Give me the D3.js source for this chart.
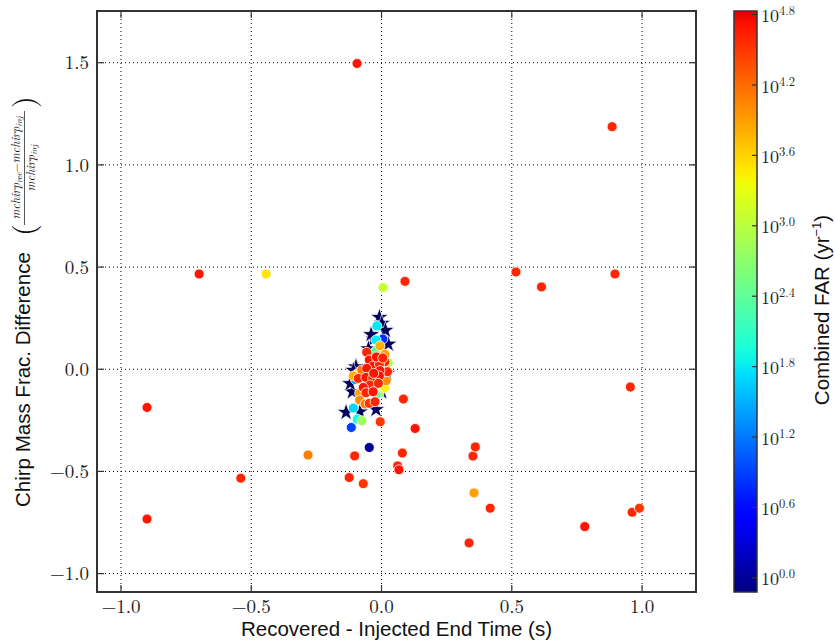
<!DOCTYPE html>
<html><head><meta charset="utf-8">
<script src="https://cdn.jsdelivr.net/npm/d3@7"></script>
<style>body{margin:0;background:#fff}</style></head>
<body><svg id="c" width="835" height="640"></svg>
<script>
// ---------- data ----------
const xTicks = [-1.0, -0.5, 0.0, 0.5, 1.0];
const yTicks = [-1.0, -0.5, 0.0, 0.5, 1.0, 1.5];
const cbarTicks = [0.0, 0.6, 1.2, 1.8, 2.4, 3.0, 3.6, 4.2, 4.8];

// found injections: time difference, chirp mass frac diff, log10 combined FAR
const circX = [-0.094, 0.885, -0.70, -0.443, 0.006, 0.09, 0.516, 0.614, 0.896, 0.955, -0.90, 0.084, 0.129, 0.08, 0.062, 0.067, -0.005, -0.047, -0.103, -0.124, -0.07, -0.54, -0.282, 0.351, 0.36, 0.355, 0.417, -0.90, 0.78, 0.962, 0.99, 0.336,
  -0.018, 0.005, -0.021, -0.021, 0.026, -0.108, -0.093, -0.075, -0.116, -0.01, -0.02, -0.1, -0.09, 0.012,
  -0.006, 0.013, 0.018, -0.084, -0.084, -0.063, -0.108, -0.076,
  -0.057, -0.047, 0.013, -0.032, -0.008, -0.057, 0.023, -0.006, -0.089, -0.06, -0.034, -0.008, -0.044, -0.07, -0.012, -0.06, -0.032, -0.047, -0.025, -0.02, 0.005, -0.03];
const circY = [1.496, 1.187, 0.466, 0.466, 0.40, 0.43, 0.476, 0.403, 0.466, -0.087, -0.187, -0.146, -0.29, -0.41, -0.473, -0.492, -0.257, -0.383, -0.424, -0.53, -0.56, -0.533, -0.42, -0.425, -0.38, -0.605, -0.68, -0.733, -0.77, -0.70, -0.68, -0.85,
  0.212, 0.148, 0.143, 0.091, 0.032, -0.19, -0.244, -0.252, -0.285, -0.12, -0.125, -0.05, -0.02, -0.09,
  0.114, 0.073, -0.056, -0.118, -0.151, -0.17, -0.033, -0.004,
  0.083, 0.045, 0.037, 0.016, 0.025, 0.004, -0.012, -0.007, -0.045, -0.04, -0.045, -0.033, -0.077, -0.089, -0.069, -0.115, -0.11, -0.167, -0.159, 0.06, 0.055, -0.02];
const circLogFar = [4.7, 4.6, 4.7, 3.5, 3.1, 4.6, 4.6, 4.6, 4.6, 4.6, 4.7, 4.6, 4.7, 4.6, 4.6, 4.7, 4.5, 0.0, 4.6, 4.6, 4.5, 4.6, 4.1, 4.6, 4.6, 3.9, 4.6, 4.7, 4.7, 4.6, 4.5, 4.6,
  1.8, 0.8, 1.8, 2.3, 2.9, 1.7, 1.9, 2.8, 0.9, 2.9, 2.4, 1.3, 3.2, 3.4,
  3.8, 3.9, 4.0, 3.9, 4.0, 4.1, 3.8, 4.1,
  4.6, 4.7, 4.6, 4.7, 4.6, 4.7, 4.6, 4.7, 4.6, 4.7, 4.6, 4.7, 4.6, 4.7, 4.6, 4.6, 4.7, 4.5, 4.6, 4.7, 4.6, 4.7];

// missed / zero-FAR injections (stars)
const starX = [-0.008, 0.001, 0.026, -0.03, -0.04, -0.098, -0.108, -0.112, -0.12, -0.136, -0.083, -0.021, 0.001, 0.02, -0.05, 0.015];
const starY = [0.254, 0.225, 0.123, 0.148, 0.17, 0.012, -0.005, -0.11, -0.07, -0.211, -0.208, -0.197, -0.11, -0.02, 0.1, 0.19];

// ---------- layout ----------
const svg = d3.select("#c");
const L = 97, R = 696, T = 11, B = 592;
const x = d3.scaleLinear().domain([-1.092, 1.207]).range([L, R]);
const y = d3.scaleLinear().domain([-1.09, 1.753]).range([B, T]);
const cbL = 734, cbR = 757;
const cbScale = d3.scaleLinear().domain([-0.12, 4.83]).range([B, T]);

// matplotlib jet
const jetSeg = {
  r: [[0,0],[0.35,0],[0.66,1],[0.89,1],[1,0.5]],
  g: [[0,0],[0.125,0],[0.375,1],[0.64,1],[0.91,0],[1,0]],
  b: [[0,0.5],[0.11,1],[0.34,1],[0.65,0],[1,0]]
};
function segVal(seg, t){
  t = Math.max(0, Math.min(1, t));
  for (let i = 1; i < seg.length; i++){
    if (t <= seg[i][0]){
      const [t0,v0] = seg[i-1], [t1,v1] = seg[i];
      return v0 + (v1 - v0) * (t - t0) / (t1 - t0);
    }
  }
  return seg[seg.length-1][1];
}
const colorT = d3.scaleLinear().domain([-0.12, 5.3]).range([0, 1]);
function jet(v){
  const t = colorT(v);
  return d3.rgb(255*segVal(jetSeg.r,t), 255*segVal(jetSeg.g,t), 255*segVal(jetSeg.b,t)).formatHex();
}

const fmt = v => d3.format(".1f")(v).replace("-", "\u2212");
const serif = "'Latin Modern Roman','CMU Serif','Liberation Serif','DejaVu Serif',serif";
const sans = "'Liberation Sans',Arial,sans-serif";

// grid
const grid = svg.append("g").attr("stroke", "#000").attr("stroke-width", 1).attr("stroke-dasharray", "1,3");
grid.selectAll(".gx").data(xTicks).join("line")
  .attr("x1", d => x(d)).attr("x2", d => x(d)).attr("y1", T).attr("y2", B);
grid.selectAll(".gy").data(yTicks).join("line")
  .attr("y1", d => y(d)).attr("y2", d => y(d)).attr("x1", L).attr("x2", R);

// stars
const star = d3.symbol().type(d3.symbolStar).size(95);
svg.append("g").selectAll("path").data(starX.map((d,i)=>({x:d, y:starY[i]}))).join("path")
  .attr("d", star)
  .attr("transform", d => `translate(${x(d.x)},${y(d.y)})`)
  .attr("fill", "#00005a").attr("stroke", "#fff").attr("stroke-width", 0.6);

// circles
svg.append("g").selectAll("circle").data(circX.map((d,i)=>({x:d, y:circY[i], v:circLogFar[i]}))).join("circle")
  .attr("cx", d => x(d.x)).attr("cy", d => y(d.y)).attr("r", 5)
  .attr("fill", d => jet(d.v)).attr("stroke", "#fff").attr("stroke-width", 0.8);

// frame + ticks
const axG = svg.append("g").attr("stroke", "#333").attr("stroke-width", 1.2);
xTicks.forEach(d => {
  axG.append("line").attr("x1", x(d)).attr("x2", x(d)).attr("y1", B).attr("y2", B-7);
  axG.append("line").attr("x1", x(d)).attr("x2", x(d)).attr("y1", T).attr("y2", T+7);
});
yTicks.forEach(d => {
  axG.append("line").attr("y1", y(d)).attr("y2", y(d)).attr("x1", L).attr("x2", L+7);
  axG.append("line").attr("y1", y(d)).attr("y2", y(d)).attr("x1", R).attr("x2", R-7);
});
svg.append("rect").attr("x", L).attr("y", T).attr("width", R-L).attr("height", B-T)
  .attr("fill", "none").attr("stroke", "#333").attr("stroke-width", 2);

// tick labels
svg.append("g").selectAll("text").data(xTicks).join("text")
  .attr("x", d => x(d)).attr("y", 613).attr("text-anchor", "middle")
  .attr("font-family", serif).attr("font-size", 19).attr("fill", "#222").text(fmt);
svg.append("g").selectAll("text").data(yTicks).join("text")
  .attr("x", 89).attr("y", d => y(d)).attr("dy", "0.35em").attr("text-anchor", "end")
  .attr("font-family", serif).attr("font-size", 19).attr("fill", "#222").text(fmt);

// x label
svg.append("text").attr("x", (L+R)/2).attr("y", 636).attr("text-anchor", "middle")
  .attr("font-family", sans).attr("font-size", 20.5).attr("fill", "#111")
  .text("Recovered - Injected End Time (s)");

// y label (rotated)
const yl = svg.append("g").attr("transform", "rotate(-90)");
yl.append("text").attr("x", -507).attr("y", 30)
  .attr("font-family", sans).attr("font-size", 20.5).attr("fill", "#111")
  .text("Chirp Mass Frac. Difference");
yl.append("text").attr("x", -236).attr("y", 34)
  .attr("font-family", serif).attr("font-size", 30).attr("fill", "#111").text("(");
const fracC = -168;
const num = yl.append("text").attr("x", fracC).attr("y", 20).attr("text-anchor", "middle")
  .attr("font-family", serif).attr("font-style", "italic").attr("font-size", 12).attr("fill", "#111");
num.append("tspan").text("mchirp");
num.append("tspan").attr("font-size", 8.5).attr("dy", 2).text("rec");
num.append("tspan").attr("dy", -2).attr("font-style", "normal").text("\u2212");
num.append("tspan").text("mchirp");
num.append("tspan").attr("font-size", 8.5).attr("dy", 2).text("inj");
yl.append("line").attr("x1", fracC-57).attr("x2", fracC+57).attr("y1", 24.5).attr("y2", 24.5)
  .attr("stroke", "#111").attr("stroke-width", 0.7);
const den = yl.append("text").attr("x", fracC).attr("y", 35).attr("text-anchor", "middle")
  .attr("font-family", serif).attr("font-style", "italic").attr("font-size", 12).attr("fill", "#111");
den.append("tspan").text("mchirp");
den.append("tspan").attr("font-size", 8.5).attr("dy", 2).text("inj");
yl.append("text").attr("x", -108).attr("y", 34)
  .attr("font-family", serif).attr("font-size", 30).attr("fill", "#111").text(")");

// colorbar
const defs = svg.append("defs");
const grad = defs.append("linearGradient").attr("id", "jetg").attr("x1", 0).attr("x2", 0).attr("y1", 1).attr("y2", 0);
d3.range(0, 41).forEach(i => {
  const v = -0.12 + (4.83 + 0.12) * i / 40;
  grad.append("stop").attr("offset", (i/40*100) + "%").attr("stop-color", jet(v));
});
svg.append("rect").attr("x", cbL).attr("y", T).attr("width", cbR-cbL).attr("height", B-T)
  .attr("fill", "url(#jetg)").attr("stroke", "#333").attr("stroke-width", 1.5);
svg.append("g").selectAll("line").data(cbarTicks).join("line")
  .attr("x1", cbR).attr("x2", cbR-5).attr("y1", d => cbScale(d)).attr("y2", d => cbScale(d))
  .attr("stroke", "#333").attr("stroke-width", 1.2);
const cbt = svg.append("g").selectAll("text").data(cbarTicks).join("text")
  .attr("x", 761).attr("y", d => cbScale(d)).attr("dy", "0.42em")
  .attr("font-family", serif).attr("font-size", 18).attr("fill", "#222");
cbt.append("tspan").text("10");
cbt.append("tspan").attr("font-size", 12.5).attr("dy", -7).text(d => d.toFixed(1));

// colorbar label
const cl = svg.append("text").attr("transform", "translate(829,310) rotate(-90)")
  .attr("text-anchor", "middle").attr("font-family", sans).attr("font-size", 20.5).attr("fill", "#111");
cl.append("tspan").text("Combined FAR (yr");
cl.append("tspan").attr("font-size", 13).attr("dy", -8).text("\u22121");
cl.append("tspan").attr("dy", 8).text(")");
</script></body></html>
